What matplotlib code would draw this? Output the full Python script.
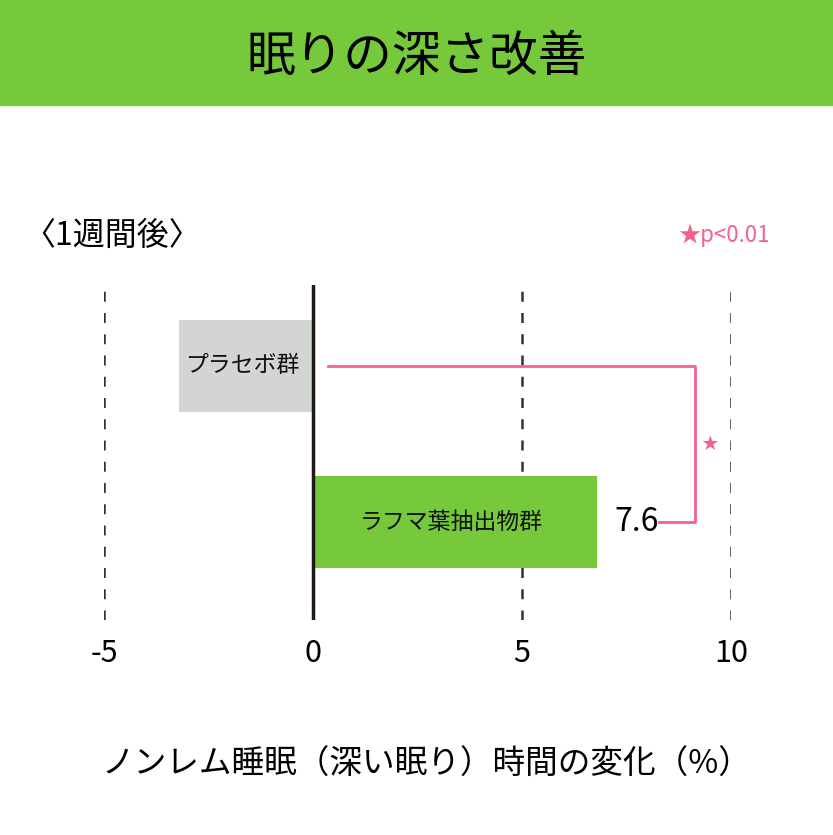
import matplotlib
matplotlib.use("Agg")
import matplotlib.pyplot as plt
from matplotlib.patches import Rectangle

plt.rcParams['font.family'] = ['Noto Sans CJK JP', 'DejaVu Sans']

# data
groups = ['ラフマ葉抽出物群', 'プラセボ群']
values = [6.8, -3.2]
value_label = '7.6'
ticks = [-5, 0, 5, 10]
title = '眠りの深さ改善'
period = '〈1週間後〉'
xlabel = 'ノンレム睡眠（深い眠り）時間の変化（%）'
sig_note = '★p<0.01'

green = '#76c93a'
gray = '#d3d5d2'
pink = '#f3628a'
dark = '#231815'

fig = plt.figure(figsize=(8.33, 8.35), dpi=100)

# title band
fig.patches.append(Rectangle((0, 0.874), 1, 0.126, transform=fig.transFigure,
                             color=green, zorder=0))
fig.text(0.5, 0.932, title, ha='center', va='center', fontsize=35, color='black')

ax = fig.add_axes([0.1249, 0.2575, 0.7527, 0.4012])
ax.set_xlim(-5, 10)
ax.set_ylim(-0.628, 1.519)

ypos = list(range(len(groups)))
colors = [green, gray]
ax.barh(ypos, values, height=0.59, color=colors, zorder=2)

for t in ticks:
    if t == 0:
        ax.axvline(t, color=dark, lw=2.5, zorder=3)
    else:
        ax.axvline(t, color='#333333', lw=1.8, ls=(0, (4, 4.5)), zorder=1)

for y, g, v in zip(ypos, groups, values):
    ax.text(v / 2 - 0.1, y, g, ha='center', va='center', fontsize=16.5,
            color='#111111', zorder=4)

ax.text(values[0] + 0.95, ypos[0], value_label, ha='center', va='center',
        fontsize=23, color='black', zorder=4)

# significance bracket
bx = 9.14
ax.plot([0.36, bx, bx, 8.28], [ypos[1], ypos[1], ypos[0], ypos[0]],
        color=pink, lw=2, zorder=4, clip_on=False)
ax.text(bx + 0.35, (ypos[0] + ypos[1]) / 2, '★', ha='center', va='center',
        fontsize=12, color=pink, clip_on=False)

ax.set_xticks(ticks)
ax.set_xticklabels([str(t) for t in ticks], fontsize=22)
ax.set_yticks([])
ax.tick_params(axis='x', length=0, pad=13)
for s in ax.spines.values():
    s.set_visible(False)

fig.text(0.512, 0.084, xlabel, ha='center', va='center', fontsize=23.5, color='black')
fig.text(0.028, 0.718, period, ha='left', va='center', fontsize=23, color='black')
fig.text(0.814, 0.718, sig_note, ha='left', va='center', fontsize=16, color=pink)

fig.savefig('out.png', dpi=100)
